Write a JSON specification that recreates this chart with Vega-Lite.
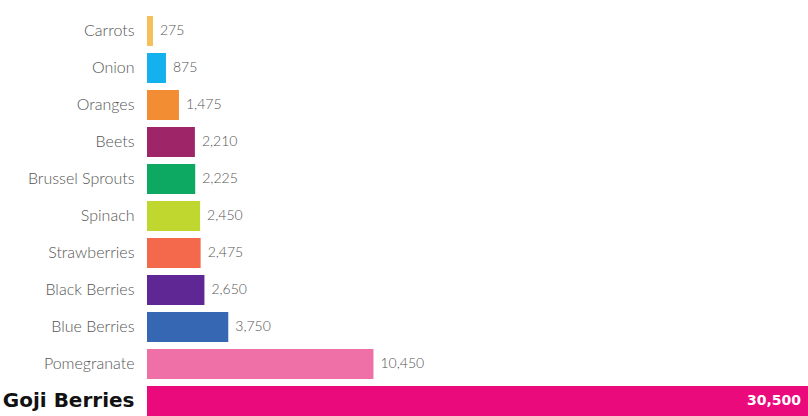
{
  "$schema": "https://vega.github.io/schema/vega-lite/v6.json",
  "autosize": {"type": "none"},
  "padding": {"left": 147, "top": 16, "right": 0, "bottom": 0},
  "width": 661,
  "height": 400,
  "background": "white",
  "config": {"view": {"stroke": null}},
  "data": {
    "values": [
      {"item": "Carrots", "value": 275, "color": "#F5C05A"},
      {"item": "Onion", "value": 875, "color": "#14B1EE"},
      {"item": "Oranges", "value": 1475, "color": "#F28D33"},
      {"item": "Beets", "value": 2210, "color": "#9E2568"},
      {"item": "Brussel Sprouts", "value": 2225, "color": "#0DA963"},
      {"item": "Spinach", "value": 2450, "color": "#C0D72F"},
      {"item": "Strawberries", "value": 2475, "color": "#F4694C"},
      {"item": "Black Berries", "value": 2650, "color": "#5E2794"},
      {"item": "Blue Berries", "value": 3750, "color": "#3567B2"},
      {"item": "Pomegranate", "value": 10450, "color": "#EF70A6"},
      {"item": "Goji Berries", "value": 30500, "color": "#EB0A7C"}
    ]
  },
  "encoding": {
    "y": {
      "field": "item",
      "type": "nominal",
      "sort": null,
      "scale": {"paddingInner": 0.19, "paddingOuter": 0},
      "axis": {
        "title": null,
        "domain": false,
        "ticks": false,
        "labelPadding": 13,
        "labelFont": {"condition": {"test": "datum.value == 'Goji Berries'", "value": "DejaVu Sans"}, "value": "Lato"},
        "labelFontSize": {"condition": {"test": "datum.value == 'Goji Berries'", "value": 20}, "value": 16},
        "labelFontWeight": {"condition": {"test": "datum.value == 'Goji Berries'", "value": "bold"}, "value": 300},
        "labelColor": {"condition": {"test": "datum.value == 'Goji Berries'", "value": "#111111"}, "value": "#555555"}
      }
    }
  },
  "layer": [
    {
      "mark": {"type": "bar"},
      "encoding": {
        "x": {
          "field": "value",
          "type": "quantitative",
          "scale": {"domain": [0, 30500], "nice": false},
          "axis": null
        },
        "color": {"field": "color", "type": "nominal", "scale": null}
      }
    },
    {
      "transform": [{"filter": "datum.item != 'Goji Berries'"}],
      "mark": {"type": "text", "align": "left", "dx": 7, "font": "Lato", "fontWeight": 300, "fontSize": 14, "color": "#555555"},
      "encoding": {
        "x": {"field": "value", "type": "quantitative"},
        "text": {"field": "value", "type": "quantitative", "format": ","}
      }
    },
    {
      "transform": [{"filter": "datum.item == 'Goji Berries'"}],
      "mark": {"type": "text", "align": "right", "dx": -7, "dy": 0, "font": "DejaVu Sans", "fontWeight": "bold", "fontSize": 14, "color": "#FFFFFF"},
      "encoding": {
        "x": {"field": "value", "type": "quantitative"},
        "text": {"field": "value", "type": "quantitative", "format": ","}
      }
    }
  ]
}
